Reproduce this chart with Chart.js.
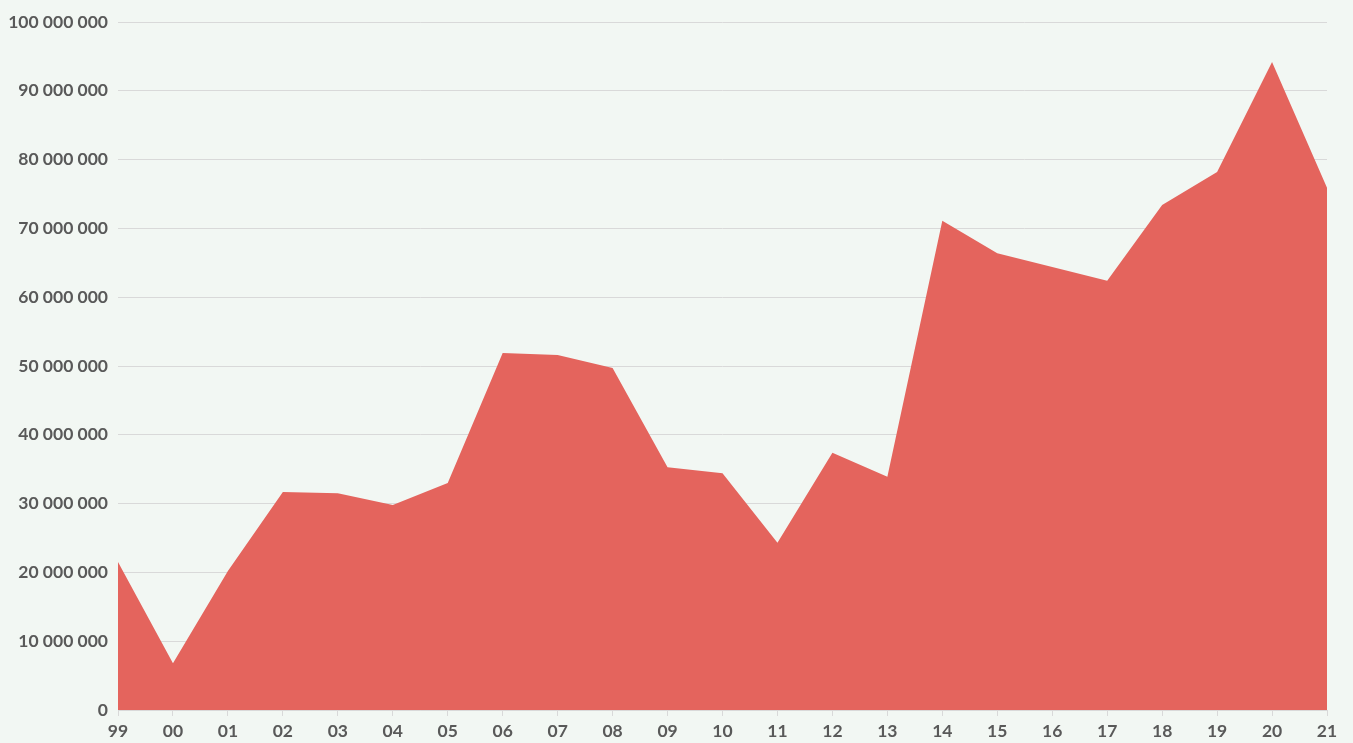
<!DOCTYPE html>
<html><head><meta charset="utf-8">
<script src="https://cdn.jsdelivr.net/npm/chart.js@4/dist/chart.umd.min.js"></script>
<style>html,body{margin:0;padding:0;background:#F2F7F3;}#wrap{width:1353px;height:743px;}</style>
</head><body><div id="wrap"><canvas id="c" width="1353" height="743"></canvas></div>
<script>
const categories = ["99","00","01","02","03","04","05","06","07","08","09","10","11","12","13","14","15","16","17","18","19","20","21"];
const values = [21.5,6.8,20.2,31.7,31.5,29.8,33.0,51.9,51.6,49.7,35.3,34.4,24.3,37.4,33.9,71.1,66.4,64.4,62.4,73.4,78.2,94.2,75.9].map(v=>v*1000000);
const yTicks = [0,10000000,20000000,30000000,40000000,50000000,60000000,70000000,80000000,90000000,100000000];
const fmt = v => String(v).replace(/\B(?=(\d{3})+(?!\d))/g, ' ');
const font = {family:'Lato, "Open Sans", sans-serif', size:17.5, weight:'bold'};
new Chart(document.getElementById('c'), {
  type:'line',
  data:{labels:categories, datasets:[{data:values, fill:'origin', backgroundColor:'#E4645D', borderWidth:0, pointRadius:0, tension:0}]},
  options:{
    responsive:false, animation:false,
    layout:{padding:{left:0,right:26,top:22,bottom:0}},
    plugins:{legend:{display:false}, tooltip:{enabled:false}},
    scales:{
      x:{offset:false, grid:{drawOnChartArea:false, color:'#D9D9D9', tickLength:6}, border:{color:'#D9D9D9'},
         ticks:{color:'#595959', font:font, maxRotation:0, autoSkip:false, padding:5},
         afterFit:s=>{s.height=33;}},
      y:{min:0,max:100000000, afterBuildTicks:s=>{s.ticks=yTicks.map(v=>({value:v}));},
         grid:{color:'#D9D9D9', drawTicks:false}, border:{display:false},
         ticks:{color:'#595959', font:font, padding:10, callback:v=>fmt(v)},
         afterFit:s=>{s.width=118;}}
    }
  }
});
</script></body></html>
